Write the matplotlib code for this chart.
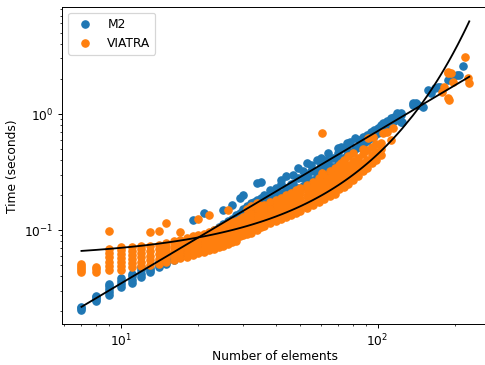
import numpy as np
import matplotlib
matplotlib.use("Agg")
import matplotlib.pyplot as plt

# M2 timings (number of elements, seconds)
m2_x = [7, 7, 7,
        8, 8, 8, 8,
        9, 9, 9, 9, 9,
        10, 10, 10, 10,
        11, 11, 11, 11,
        12, 12, 12, 12,
        13, 13, 13,
        14, 14, 14,
        15, 15, 15,
        16, 16, 16,
        17, 17, 17,
        18, 18, 18,
        19, 19, 19,
        20, 20, 20,
        21, 21, 21,
        22, 22, 22,
        23, 23, 23,
        24, 24, 24,
        25, 25, 25, 25,
        26, 26, 26,
        27, 27, 27, 27,
        28, 28, 28,
        29, 29, 29, 29,
        30, 30, 30, 30,
        31, 31, 31,
        32, 32, 32,
        33, 33, 33,
        34, 34, 34, 34,
        35, 35, 35, 35,
        36, 36, 36,
        37, 37,
        38, 38, 38,
        40, 40, 40,
        42, 42, 42, 42,
        43, 43,
        44, 44, 44,
        46, 46,
        47, 47, 47,
        49, 49, 49,
        51, 51, 51,
        53, 53, 53,
        55, 55, 55,
        58, 58, 58,
        60, 60, 60,
        63, 63, 63,
        64, 64,
        67, 67,
        70, 70, 70, 70,
        72, 72,
        74, 74,
        76, 76, 76,
        78, 78,
        82, 82,
        85, 85,
        88, 88,
        91, 91,
        94, 94,
        97, 97,
        100, 100,
        103, 103,
        105, 105,
        109, 109,
        113, 113, 113,
        116, 116,
        119, 119, 119,
        123, 123, 123,
        125, 137, 138, 141, 144, 150, 158, 161, 168, 172, 176,
        188, 197, 205, 207, 216]
m2_y = [0.0205, 0.0212, 0.0218,
        0.0245, 0.0255, 0.0265, 0.027,
        0.0275, 0.029, 0.031, 0.033, 0.034,
        0.032, 0.034, 0.036, 0.0385,
        0.035, 0.037, 0.040, 0.042,
        0.039, 0.042, 0.045, 0.048,
        0.043, 0.045, 0.047,
        0.048, 0.050, 0.053,
        0.051, 0.053, 0.056,
        0.055, 0.058, 0.061,
        0.058, 0.062, 0.066,
        0.062, 0.066, 0.070,
        0.066, 0.071, 0.122,
        0.070, 0.075, 0.080,
        0.074, 0.080, 0.140,
        0.078, 0.085, 0.092,
        0.082, 0.090, 0.100,
        0.086, 0.095, 0.105,
        0.090, 0.100, 0.112, 0.149,
        0.095, 0.105, 0.120,
        0.100, 0.110, 0.125, 0.164,
        0.105, 0.120, 0.135,
        0.110, 0.125, 0.140, 0.190,
        0.115, 0.130, 0.150, 0.200,
        0.120, 0.140, 0.160,
        0.125, 0.145, 0.170,
        0.130, 0.150, 0.175,
        0.140, 0.160, 0.180, 0.254,
        0.145, 0.170, 0.190, 0.260,
        0.150, 0.175, 0.200,
        0.155, 0.190,
        0.160, 0.200, 0.220,
        0.170, 0.200, 0.230,
        0.180, 0.210, 0.250, 0.270,
        0.190, 0.210,
        0.200, 0.230, 0.290,
        0.210, 0.250,
        0.220, 0.250, 0.300,
        0.230, 0.280, 0.340,
        0.240, 0.280, 0.320,
        0.260, 0.300, 0.380,
        0.270, 0.320, 0.360,
        0.290, 0.320, 0.400,
        0.300, 0.360, 0.420,
        0.320, 0.350, 0.400,
        0.380, 0.460,
        0.350, 0.420,
        0.370, 0.400, 0.460, 0.510,
        0.400, 0.520,
        0.420, 0.510,
        0.440, 0.500, 0.560,
        0.460, 0.570,
        0.500, 0.620,
        0.520, 0.600,
        0.550, 0.630,
        0.580, 0.660,
        0.620, 0.700,
        0.640, 0.720,
        0.680, 0.760,
        0.720, 0.800,
        0.740, 0.840,
        0.780, 0.860,
        0.820, 0.890, 0.920,
        0.860, 0.940,
        0.900, 0.940, 1.020,
        0.850, 0.980, 1.020,
        0.850, 1.200, 1.240, 1.240, 1.200, 1.150, 1.610, 1.520, 1.670, 1.710, 1.710,
        1.960, 2.080, 2.170, 2.170, 2.600]

# VIATRA timings
viatra_x = [7, 7, 7, 7, 7,
            8, 8, 8,
            9, 9, 9, 9, 9, 9, 9,
            10, 10, 10, 10, 10, 10, 10,
            11, 11, 11, 11, 11, 11,
            12, 12, 12, 12, 12, 12,
            13, 13, 13, 13, 13, 13,
            14, 14, 14, 14, 14, 14,
            15, 15, 15, 15, 15, 15,
            16, 16, 16, 16, 16,
            17, 17, 17, 17, 17, 17,
            18, 18, 18, 18, 18,
            19, 19, 19, 19, 19,
            20, 20, 20, 20, 20, 20, 20,
            21, 21, 21, 21, 21,
            22, 22, 22, 22, 22, 22,
            23, 23, 23, 23, 23,
            24, 24, 24, 24, 24,
            25, 25, 25, 25, 25,
            26, 26, 26, 26, 26, 26,
            27, 27, 27, 27, 27,
            28, 28, 28, 28, 28,
            29, 29, 29, 29, 29,
            30, 30, 30, 30, 30,
            31, 31, 31, 31, 31, 31,
            32, 32, 32, 32, 32, 32,
            34, 34, 34, 34, 34, 34,
            35, 35, 35, 35, 35,
            36, 36, 36, 36, 36,
            38, 38, 38, 38, 38,
            40, 40, 40, 40, 40,
            42, 42, 42, 42, 42,
            44, 44, 44, 44, 44,
            46, 46, 46, 46, 46,
            48, 48, 48, 48, 48,
            50, 50, 50, 50, 50,
            53, 53, 53, 53, 53,
            56, 56, 56, 56, 56,
            59, 59, 59, 59, 59,
            61, 61,
            62, 62, 62, 62, 62,
            65, 65, 65, 65, 65,
            68, 68, 68, 68, 68,
            70,
            71, 71, 71, 71, 71,
            72,
            74, 74, 74, 74, 74,
            77, 77, 77, 77, 77,
            80, 80, 80, 80, 80,
            84, 84, 84, 84,
            88, 88, 88, 88, 88,
            91, 91, 91,
            92,
            95, 95, 95,
            96,
            99, 99, 99,
            103, 103, 103,
            105, 109, 113, 115,
            178, 181, 188, 188, 188, 190, 193, 197, 220, 225, 228]
viatra_y = [0.043, 0.045, 0.047, 0.049, 0.051,
            0.0435, 0.046, 0.048,
            0.045, 0.049, 0.053, 0.058, 0.063, 0.068, 0.098,
            0.045, 0.049, 0.053, 0.057, 0.062, 0.067, 0.071,
            0.048, 0.052, 0.056, 0.061, 0.066, 0.071,
            0.049, 0.053, 0.058, 0.063, 0.068, 0.073,
            0.050, 0.055, 0.060, 0.066, 0.073, 0.096,
            0.051, 0.056, 0.062, 0.068, 0.074, 0.097,
            0.053, 0.058, 0.064, 0.070, 0.077, 0.115,
            0.055, 0.060, 0.066, 0.073, 0.080,
            0.057, 0.062, 0.068, 0.075, 0.082, 0.096,
            0.059, 0.064, 0.070, 0.077, 0.085,
            0.061, 0.066, 0.072, 0.079, 0.088,
            0.063, 0.068, 0.074, 0.082, 0.090, 0.124, 0.085,
            0.065, 0.070, 0.077, 0.085, 0.093,
            0.067, 0.072, 0.079, 0.088, 0.096, 0.135,
            0.069, 0.075, 0.082, 0.090, 0.100,
            0.071, 0.077, 0.085, 0.093, 0.104,
            0.073, 0.080, 0.088, 0.097, 0.108,
            0.076, 0.083, 0.091, 0.100, 0.112, 0.149,
            0.078, 0.086, 0.094, 0.104, 0.116,
            0.081, 0.089, 0.098, 0.108, 0.120,
            0.088, 0.094, 0.103, 0.112, 0.125,
            0.090, 0.097, 0.105, 0.116, 0.130,
            0.092, 0.100, 0.110, 0.122, 0.135, 0.150,
            0.095, 0.104, 0.115, 0.127, 0.140, 0.160,
            0.100, 0.110, 0.122, 0.135, 0.150, 0.170,
            0.105, 0.115, 0.128, 0.142, 0.160,
            0.108, 0.120, 0.133, 0.148, 0.165,
            0.115, 0.127, 0.140, 0.155, 0.175,
            0.120, 0.133, 0.147, 0.163, 0.180,
            0.125, 0.140, 0.155, 0.172, 0.190,
            0.130, 0.146, 0.162, 0.180, 0.200,
            0.135, 0.152, 0.170, 0.190, 0.210,
            0.140, 0.158, 0.177, 0.200, 0.220,
            0.147, 0.165, 0.185, 0.210, 0.230,
            0.155, 0.175, 0.196, 0.220, 0.245,
            0.165, 0.185, 0.210, 0.235, 0.260,
            0.175, 0.197, 0.220, 0.250, 0.280,
            0.310, 0.680,
            0.185, 0.210, 0.235, 0.265, 0.300,
            0.195, 0.220, 0.250, 0.280, 0.320,
            0.205, 0.235, 0.265, 0.300, 0.340,
            0.330,
            0.225, 0.250, 0.280, 0.320, 0.360,
            0.380,
            0.235, 0.260, 0.300, 0.340, 0.400,
            0.250, 0.280, 0.320, 0.360, 0.430,
            0.270, 0.300, 0.340, 0.390, 0.460,
            0.290, 0.330, 0.370, 0.420,
            0.320, 0.360, 0.380, 0.450, 0.500,
            0.340, 0.400, 0.490,
            0.620,
            0.380, 0.440, 0.520,
            0.630,
            0.400, 0.470, 0.550,
            0.440, 0.500, 0.560,
            0.680, 0.700, 0.600, 0.760,
            1.550, 1.710, 2.300, 2.250, 1.370, 1.320, 2.260, 1.890, 3.100, 2.040, 1.850]

# fitted curves as shown on the chart
m2_fit = (0.0017, 1.31)        # power law  a * x**b
viatra_fit = (0.0571, 0.0206)  # exponential  a * exp(b*x)


def main():
    fig = plt.figure(figsize=(485.5 / 88, 365.5 / 88), dpi=88)
    ax = fig.add_axes([62 / 485, 41 / 365, 426 / 485, 317 / 365])

    ax.scatter(m2_x, m2_y, label="M2")
    ax.scatter(viatra_x, viatra_y, label="VIATRA")

    xs = np.sort(np.unique(np.concatenate([m2_x, viatra_x])))
    ax.plot(xs, m2_fit[0] * xs ** m2_fit[1], "k-")
    ax.plot(xs, viatra_fit[0] * np.exp(viatra_fit[1] * xs), "k-")

    ax.set_xscale("log")
    ax.set_yscale("log")
    ax.set_xlim(5.88, 271)
    ax.set_ylim(0.0155, 8.4)
    ax.set_xlabel("Number of elements", labelpad=0)
    ax.set_ylabel("Time (seconds)")
    ax.legend(loc="upper left")

    fig.savefig("out.png", dpi=88)


if __name__ == '__main__':
    main()
